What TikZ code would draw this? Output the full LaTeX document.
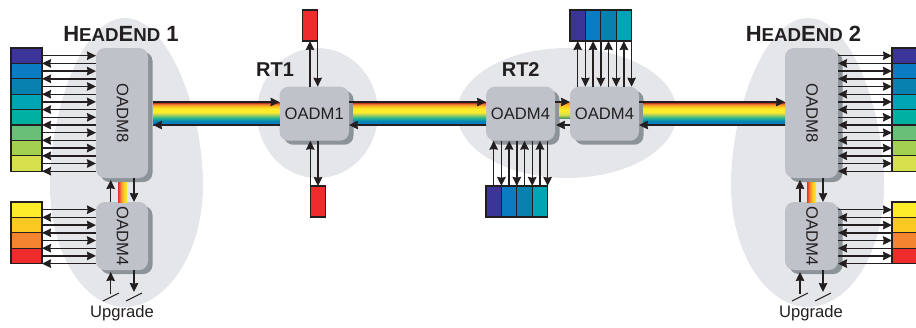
\documentclass[tikz,border=0pt]{standalone}
\usepackage{fontspec}
\setmainfont{Liberation Sans}
\usetikzlibrary{arrows.meta,shadows,calc}
\definecolor{blob}{HTML}{E4E6EA}
\definecolor{mfront}{HTML}{BFC3C9}
\definecolor{mback}{HTML}{8D9499}
\definecolor{ink}{HTML}{231F20}
\definecolor{chA}{HTML}{3A3596}
\definecolor{chB}{HTML}{0A7CC4}
\definecolor{chC}{HTML}{0880B0}
\definecolor{chD}{HTML}{00A5B5}
\definecolor{chE}{HTML}{00B0A0}
\definecolor{chF}{HTML}{6ABF78}
\definecolor{chG}{HTML}{A3D050}
\definecolor{chH}{HTML}{D5E04C}
\definecolor{chI}{HTML}{FDEC2A}
\definecolor{chJ}{HTML}{FCC922}
\definecolor{chK}{HTML}{F48530}
\definecolor{chL}{HTML}{EE2C2C}
\pgfdeclareverticalshading{rainbowv}{100bp}{%
  color(0bp)=(chA!80!black);
  color(25bp)=(chA!80!black);
  color(29bp)=(chB);
  color(34bp)=(chC!80!chD);
  color(40bp)=(chE!70!chF);
  color(45bp)=(chF!60!chG);
  color(50bp)=(chH);
  color(53bp)=(chI);
  color(60bp)=(chI);
  color(65bp)=(chJ);
  color(70bp)=(chK);
  color(74bp)=(chL!70!black);
  color(75bp)=(chL!50!black);
  color(100bp)=(chL!50!black)}
\pgfdeclareverticalshading{rainbowshort}{100bp}{%
  color(0bp)=(chF);
  color(25bp)=(chF!80!black);
  color(35bp)=(chH);
  color(50bp)=(chI);
  color(62bp)=(chJ);
  color(75bp)=(chK);
  color(100bp)=(chK)}
\pgfdeclarehorizontalshading{rainbowh}{100bp}{%
  color(0bp)=(chL);
  color(25bp)=(chL);
  color(40bp)=(chK);
  color(55bp)=(chJ);
  color(75bp)=(chI);
  color(100bp)=(chI)}
\tikzset{
  blobfill/.style={fill=blob,draw=none},
  oadm/.style={draw=none,fill=mfront,rounded corners=9pt,inner sep=0pt,outer sep=0pt,
    text=ink,font=\fontsize{16.6}{18}\selectfont,
    general shadow={fill=mback,shadow xshift=4.5pt,shadow yshift=-4pt}},
  chan/.style={draw=ink,line width=1.1pt,inner sep=0pt,outer sep=0pt,minimum width=31pt,minimum height=15.4pt},
  chanv/.style={draw=ink,line width=1.1pt,inner sep=0pt,outer sep=0pt,minimum width=15.4pt,minimum height=31pt},
  link/.style={draw=ink,line width=1.4pt,-{Stealth[length=9pt,width=8.5pt,inset=0.7pt]}},
  slash/.style={draw=ink,line width=1pt},
  title/.style={text=ink,font=\bfseries\fontsize{20}{22}\selectfont,inner sep=0pt},
  small/.style={text=ink,font=\fontsize{16.6}{18}\selectfont,inner sep=0pt}
}
\newcommand{\hetitle}[1]{\fontsize{22}{24}\selectfont H{\fontsize{18.7}{24}\selectfont EAD}E{\fontsize{18.7}{24}\selectfont ND} #1}
\begin{document}
\begin{tikzpicture}[x=1pt,y=-1pt]
\useasboundingbox (0,0) rectangle (916,327);
% grey sites
\path[blobfill] (125,18) .. controls (168,18) and (203,110) .. (203,185) .. controls (203,255) and (165,307) .. (125,307) .. controls (85,307) and (50,255) .. (50,185) .. controls (50,110) and (82,18) .. (125,18) -- cycle;
\path[blobfill] (808,18) .. controls (851,18) and (884,110) .. (884,185) .. controls (884,255) and (848,307) .. (808,307) .. controls (768,307) and (731,255) .. (731,185) .. controls (731,110) and (765,18) .. (808,18) -- cycle;
\path[blobfill] (317.5,113) ellipse [x radius=60.5,y radius=65];
\path[blobfill] (567,113) ellipse [x radius=110,y radius=65];
% reference levels
\coordinate (bandtop) at (0,102);
\coordinate (bandbot) at (0,125);
% multiplexers
\node[oadm,minimum width=52pt,minimum height=130pt] (hA) at (122,113) {};
\node[oadm,minimum width=52pt,minimum height=68pt] (hB) at (122,236) {};
\node[oadm,minimum width=53pt,minimum height=130pt] (jA) at (811.5,113) {};
\node[oadm,minimum width=53pt,minimum height=68pt] (jB) at (811.5,236) {};
\node[oadm,minimum width=69.5pt,minimum height=54pt] (r1) at (314.25,113.7) {OADM1};
\node[oadm,minimum width=69pt,minimum height=54pt] (r2a) at (520.5,113.7) {OADM4};
\node[oadm,minimum width=69pt,minimum height=54pt] (r2b) at (604.5,113.7) {OADM4};
\node[small,rotate=-90] (lA) at (122.7,113) {OADM8};
\node[small,rotate=-90] (lB) at (122.7,236) {OADM4};
\node[small,rotate=-90] (lC) at (812,113) {OADM8};
\node[small,rotate=-90] (lD) at (812,236) {OADM4};
% titles
\node[title,anchor=base] (t1) at (121,41) {\hetitle{1}};
\node[title,anchor=base] (t2) at (803.5,41) {\hetitle{2}};
\node[title] (t3) at (275,70) {RT1};
\node[title] (t4) at (520.7,70) {RT2};
\node[small,anchor=base] (u1) at (122,317.5) {Upgrade};
\node[small,anchor=base] (u2) at (811,317.5) {Upgrade};
% rainbow bands
\shade[shading=rainbowv] (153,102) rectangle (279.5,125);
\shade[shading=rainbowv] (353,102) rectangle (486,125);
\shade[shading=rainbowv] (643,102) rectangle (785,125);
\shade[shading=rainbowshort] (559,102) rectangle (570,118);
\shade[shading=rainbowh] (118,182) rectangle (127,202);
\shade[shading=rainbowh] (807,182) rectangle (816,202);
% band arrows
\draw[link] ($(hA.east |- bandtop)+(5,0)$) -- (r1.west |- bandtop);
\draw[link] (r1.west |- bandbot) -- ($(hA.east |- bandbot)+(5,0)$);
\draw[link] (r1.east |- bandtop) -- (r2a.west |- bandtop);
\draw[link] (r2a.west |- bandbot) -- (r1.east |- bandbot);
\draw[link] (r2a.east |- bandtop) -- (r2b.west |- bandtop);
\draw[link] (r2b.west |- bandbot) -- ($(r2a.east |- bandbot)+(1,0)$);
\draw[link] (r2b.east |- bandtop) -- (jA.west |- bandtop);
\draw[link] (jA.west |- bandbot) -- (r2b.east |- bandbot);
% end-terminal channels
\foreach \n/\c [count=\i from 0] in {a/chA,b/chB,c/chC,d/chD,e/chE,f/chF,g/chG,h/chH}{
  \node[chan,fill=\c] (la\n) at (26.5,55.7+15.4*\i) {};
  \node[chan,fill=\c] (ra\n) at (907.5,55.7+15.4*\i) {};
}
\foreach \n/\c [count=\i from 0] in {a/chI,b/chJ,c/chK,d/chL}{
  \node[chan,fill=\c] (lb\n) at (26.5,209.7+15.4*\i) {};
  \node[chan,fill=\c] (rb\n) at (907.5,209.7+15.4*\i) {};
}
\foreach \n in {a,b,c,d,e,f,g,h}{
  \draw[link] (la\n.east) -- (la\n.east -| hA.west);
  \draw[link] (la\n.south east -| hA.west) -- (la\n.south east);
  \draw[link] (ra\n.west -| jA.east) -- (ra\n.west);
  \draw[link] (ra\n.south west) -- (ra\n.south west -| jA.east);
}
\foreach \n in {a,b,c,d}{
  \draw[link] (lb\n.east) -- (lb\n.east -| hB.west);
  \draw[link] (lb\n.south east -| hB.west) -- (lb\n.south east);
  \draw[link] (rb\n.west -| jB.east) -- (rb\n.west);
  \draw[link] (rb\n.south west) -- (rb\n.south west -| jB.east);
}
% RT1 add/drop
\node[chanv,fill=chL] (ru) at (310,25.5) {};
\node[chanv,fill=chL] (rd) at (318,201.5) {};
\draw[link] (ru.south |- r1.north) -- (ru.south);
\draw[link] (ru.south east) -- (ru.south east |- r1.north);
\draw[link] (rd.north west) -- (rd.north west |- r1.south);
\draw[link] (rd.north |- r1.south) -- (rd.north);
% RT2 add/drop
\foreach \n/\c [count=\i from 0] in {a/chA,b/chB,c/chC,d/chD}{
  \node[chanv,fill=\c] (tu\n) at (577.7+15.4*\i,25.5) {};
  \node[chanv,fill=\c] (td\n) at (493.7+15.4*\i,201.5) {};
}
\foreach \n in {a,b,c,d}{
  \draw[link] (tu\n.south |- r2b.north) -- (tu\n.south);
  \draw[link] (tu\n.south east) -- (tu\n.south east |- r2b.north);
  \draw[link] (td\n.north) -- (td\n.north |- r2a.south);
  \draw[link] (td\n.north east |- r2a.south) -- (td\n.north east);
}
% links between the stacked multiplexers
\coordinate (upH) at (110.7,0);
\coordinate (dnH) at (134,0);
\coordinate (upJ) at (800,0);
\coordinate (dnJ) at (823,0);
\draw[link] (upH |- hB.north) -- ($(upH |- hA.south)+(0,2)$);
\draw[link] (dnH |- hA.south) -- (dnH |- hB.north);
\draw[link] (upJ |- jB.north) -- ($(upJ |- jA.south)+(0,2)$);
\draw[link] (dnJ |- jA.south) -- (dnJ |- jB.north);
% upgrade ports
\coordinate (fH1) at (110.7,294);
\coordinate (fH2) at (134,292);
\coordinate (fJ1) at (800,294);
\coordinate (fJ2) at (823,292);
\draw[link] (fH1) -- ($(upH |- hB.south)+(0,2)$);
\draw[link] (dnH |- hB.south) -- (fH2);
\draw[link] (fJ1) -- ($(upJ |- jB.south)+(0,2)$);
\draw[link] (dnJ |- jB.south) -- (fJ2);
\draw[slash] (103,301) -- (119,293);
\draw[slash] (126,301) -- (142,293);
\draw[slash] (792,301) -- (808,293);
\draw[slash] (815,301) -- (831,293);
\end{tikzpicture}
\end{document}
